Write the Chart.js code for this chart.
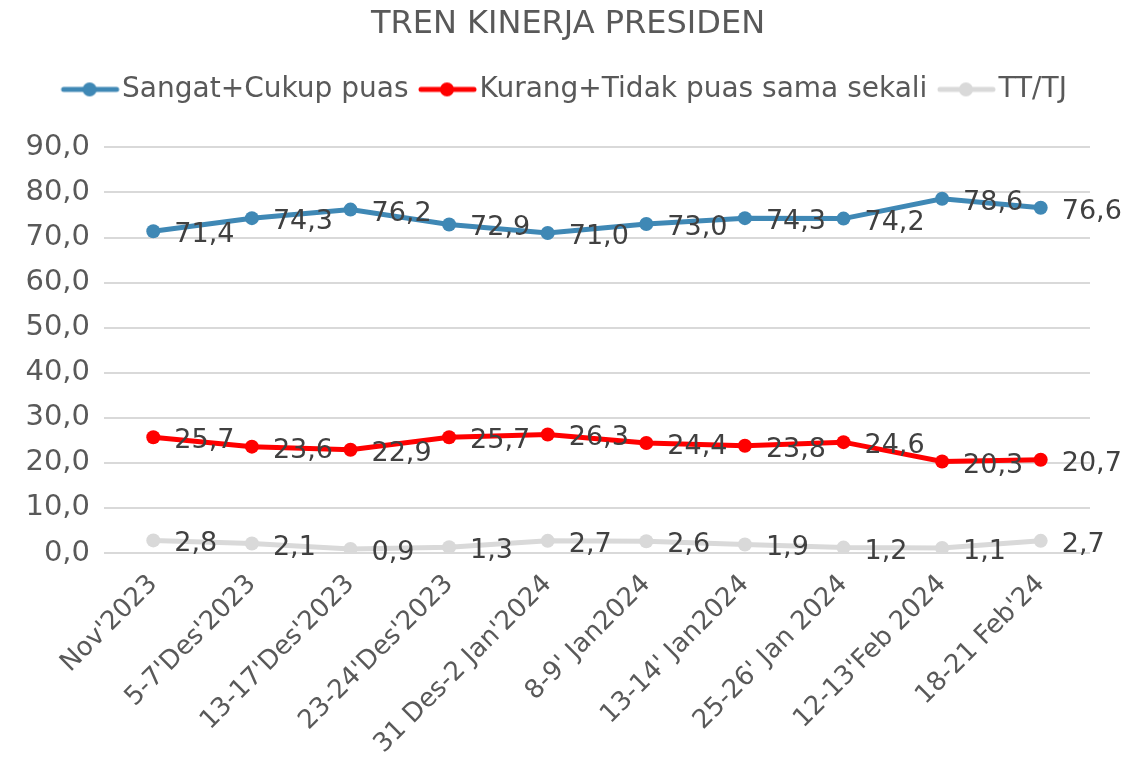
<!DOCTYPE html>
<html>
<head>
<meta charset="utf-8">
<script src="https://cdn.jsdelivr.net/npm/chart.js@4.4.1/dist/chart.umd.min.js"></script>
<style>
  html, body { margin: 0; padding: 0; background: #fff; }
  #wrap { width: 1136px; height: 767px; }
</style>
</head>
<body>
<div id="wrap"><canvas id="trend"></canvas></div>
<script>
const periods = ["Nov'2023", "5-7'Des'2023", "13-17'Des'2023", "23-24'Des'2023", "31 Des-2 Jan'2024",
  "8-9' Jan2024", "13-14' Jan2024", "25-26' Jan 2024", "12-13'Feb 2024", "18-21 Feb'24"];
const puas = [71.4, 74.3, 76.2, 72.9, 71.0, 73.0, 74.3, 74.2, 78.6, 76.6];
const tidakPuas = [25.7, 23.6, 22.9, 25.7, 26.3, 24.4, 23.8, 24.6, 20.3, 20.7];
const ttTj = [2.8, 2.1, 0.9, 1.3, 2.7, 2.6, 1.9, 1.2, 1.1, 2.7];
const seriesNames = ['Sangat+Cukup puas', 'Kurang+Tidak puas sama sekali', 'TT/TJ'];

const FONT = 'DejaVu Sans';
const textColor = '#595959';
const colors = ['#3F88B5', '#FF0000', '#D9D9D9'];

const fmt = v => v.toFixed(1).replace('.', ',');

// legend swatch: line with a dot, like Excel
function swatch(color) {
  const c = document.createElement('canvas');
  c.width = 68; c.height = 16;
  const g = c.getContext('2d');
  g.strokeStyle = color; g.lineWidth = 5; g.lineCap = 'round';
  g.beginPath(); g.moveTo(9, 8); g.lineTo(62, 8); g.stroke();
  g.fillStyle = color;
  g.beginPath(); g.arc(35, 8, 7, 0, Math.PI * 2); g.fill();
  return c;
}

const valueLabels = {
  id: 'valueLabels',
  afterDatasetsDraw(chart) {
    const ctx = chart.ctx;
    ctx.save();
    ctx.font = '27px "' + FONT + '"';
    ctx.fillStyle = '#404040';
    ctx.textAlign = 'left';
    ctx.textBaseline = 'middle';
    chart.data.datasets.forEach((ds, i) => {
      chart.getDatasetMeta(i).data.forEach((pt, j) => {
        ctx.fillText(fmt(ds.data[j]), pt.x + 21, pt.y + 4);
      });
    });
    ctx.restore();
  }
};

const mk = (i, data) => ({
  label: seriesNames[i],
  data: data,
  borderColor: colors[i],
  backgroundColor: colors[i],
  borderWidth: 5,
  pointRadius: 7,
  pointHoverRadius: 7,
  pointBorderWidth: 0,
  tension: 0
});

new Chart(document.getElementById('trend'), {
  type: 'line',
  data: {
    labels: periods,
    datasets: [mk(0, puas), mk(1, tidakPuas), mk(2, ttTj)]
  },
  options: {
    responsive: true,
    maintainAspectRatio: false,
    animation: false,
    layout: { padding: 0 },
    plugins: {
      title: {
        display: true,
        text: 'TREN KINERJA PRESIDEN',
        color: textColor,
        font: { family: FONT, size: 32, weight: 'normal' },
        padding: { top: 5, bottom: 14 }
      },
      // empty spacer between the legend and the plot
      subtitle: {
        display: true,
        text: '',
        weight: 500,
        font: { size: 10, lineHeight: 1 },
        padding: { top: 12, bottom: 12 }
      },
      legend: {
        position: 'top',
        labels: {
          color: textColor,
          font: { family: FONT, size: 28 },
          usePointStyle: true,
          pointStyleWidth: 39,
          padding: 18,
          generateLabels(chart) {
            return chart.data.datasets.map((ds, i) => ({
              text: ds.label,
              fillStyle: colors[i],
              strokeStyle: colors[i],
              fontColor: textColor,
              pointStyle: swatch(colors[i]),
              lineWidth: 0,
              hidden: false,
              datasetIndex: i
            }));
          }
        }
      },
      tooltip: { enabled: false }
    },
    scales: {
      x: {
        offset: true,
        grid: { display: false },
        border: { display: false },
        ticks: {
          color: textColor,
          font: { family: FONT, size: 26 },
          minRotation: 45,
          maxRotation: 45,
          padding: 8
        },
        afterFit(scale) { scale.height = 214; }
      },
      y: {
        min: 0,
        max: 90,
        ticks: {
          stepSize: 10,
          color: textColor,
          font: { family: FONT, size: 29 },
          padding: 14,
          callback: v => fmt(v)
        },
        grid: { color: '#D9D9D9', lineWidth: 2, drawTicks: false },
        border: { display: false },
        afterFit(scale) { scale.width = 104; }
      },
      // blank right margin so the title and legend stay centred on the page
      margin: {
        position: 'right',
        grid: { display: false },
        border: { display: false },
        ticks: { display: false },
        afterFit(scale) { scale.width = 46; }
      }
    }
  },
  plugins: [valueLabels]
});
</script>
</body>
</html>
